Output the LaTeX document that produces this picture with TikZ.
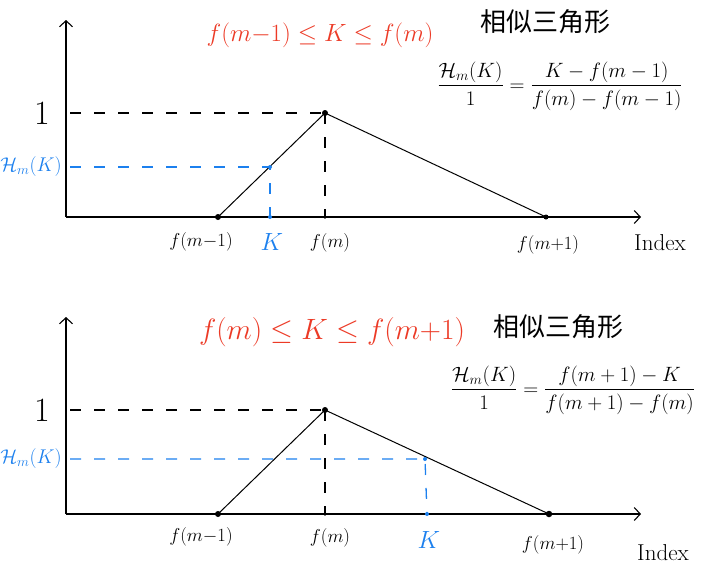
\documentclass[tikz,border=0pt]{standalone}
\usepackage{amsmath}
\usepackage{graphicx}
\usepackage{fontspec}
\newfontfamily\cjk{Noto Sans CJK SC}
\usetikzlibrary{arrows.meta}
\definecolor{hred}{RGB}{236,58,38}
\definecolor{hblue}{RGB}{28,128,238}
\newcommand{\zz}[2]{\scalebox{#1}{#2}}
\tikzset{
  axis/.style={line width=1.1pt, -{Straight Barb[length=6pt,width=13pt]}},
  tri/.style={line width=1pt},
  dot/.style={circle, fill=black, inner sep=0pt, minimum size=6pt},
  sdot/.style={circle, fill=black, inner sep=0pt, minimum size=3.5pt},
  bdot/.style={circle, fill=hblue, inner sep=0pt, minimum size=4pt},
  kdash/.style={line width=1.6pt, dash pattern=on 11pt off 13pt},
  bdash/.style={line width=1.3pt, hblue, dash pattern=on 11pt off 13pt},
  lab/.style={font=\fontsize{17.28}{19}\selectfont, inner sep=1pt},
  blab/.style={lab, text=hblue},
  klab/.style={font=\fontsize{24.88}{26}\selectfont, text=hblue, inner sep=1pt},
  idx/.style={font=\fontsize{23}{25}\selectfont, inner sep=1pt},
  one/.style={font=\fontsize{34}{36}\selectfont, inner sep=1pt},
  ttl/.style={font=\fontsize{24.88}{28}\selectfont, text=hred, inner sep=1pt},
  cjkl/.style={font=\cjk\fontsize{26}{28}\selectfont, inner sep=1pt},
  frac/.style={font=\fontsize{17.28}{19}\selectfont, inner sep=1pt},
}
\begin{document}
\begin{tikzpicture}[x=1pt,y=-1pt]
\useasboundingbox (0,0) rectangle (707,576);

% ---------- top panel ----------
\coordinate (O1) at (66,217);
\coordinate (Y1) at (66,20);
\coordinate (X1) at (641,217);
\draw[axis] (O1) -- (Y1);
\draw[axis] (O1) -- (X1);
\node[dot] (a1) at (218,217) {};
\node[dot] (p1) at (325,113) {};
\node[dot, minimum size=5pt] (c1) at (546,217) {};
\node[sdot] (pb1) at (325,217) {};
\draw[tri] (a1.center) -- (p1.center) -- (c1.center);
\coordinate (one1) at (70,113);
\draw[kdash] (one1) -- (p1.center);
\draw[kdash] (p1.center) -- (pb1.center);
\node[bdot] (k1) at (270,167) {};
\node[bdot] (kb1) at (270,217) {};
\coordinate (h1) at (70,167);
\draw[bdash] (h1) -- (k1.center) -- (kb1.center);
\node[one] (l1a) at (42,113) {1};
\node[blab] (lh1) at (31,167) {\zz{1.15}{$\mathcal{H}_m(K)$}};
\node[lab] (lfa1) at (201,242) {\zz{1.08}{$f(m{-}1)$}};
\node[klab] (lk1) at (272,242) {$K$};
\node[lab] (lfm1) at (330,243) {\zz{1.08}{$f(m)$}};
\node[lab] (lfc1) at (548,245) {\zz{1.08}{$f(m{+}1)$}};
\node[idx] (lix1) at (660,243) {Index};
\node[ttl] (t1) at (320,35) {$f(m{-}1)\leq K\leq f(m)$};
\node[cjkl] (cj1) at (545,22) {相似三角形};
\node[frac] (fr1) at (560,86) {\zz{1.2}{$\displaystyle\frac{\mathcal{H}_m(K)}{1}=\frac{K-f(m-1)}{f(m)-f(m-1)}$}};

% ---------- bottom panel ----------
\coordinate (O2) at (66,514);
\coordinate (Y2) at (66,317);
\coordinate (X2) at (641,514);
\draw[axis] (O2) -- (Y2);
\draw[axis] (O2) -- (X2);
\node[dot] (a2) at (218,514) {};
\node[dot] (p2) at (325,410) {};
\node[dot, minimum size=6.5pt] (c2) at (549,514) {};
\node[sdot] (pb2) at (325,514) {};
\draw[tri] (a2.center) -- (p2.center) -- (c2.center);
\coordinate (one2) at (70,410);
\draw[kdash] (one2) -- (p2.center);
\draw[kdash] (p2.center) -- (pb2.center);
\node[bdot] (k2) at (425,459) {};
\node[bdot] (kb2) at (427,514) {};
\coordinate (h2) at (70,459);
\draw[bdash] (h2) -- (k2.center) -- (kb2.center);
\node[one] (l1b) at (42,410) {1};
\node[blab] (lh2) at (31,459) {\zz{1.15}{$\mathcal{H}_m(K)$}};
\node[lab] (lfa2) at (201,537) {\zz{1.08}{$f(m{-}1)$}};
\node[lab] (lfm2) at (330,538) {\zz{1.08}{$f(m)$}};
\node[klab] (lk2) at (429,540) {$K$};
\node[lab] (lfc2) at (553,545) {\zz{1.08}{$f(m{+}1)$}};
\node[idx] (lix2) at (663,553) {Index};
\node[ttl] (t2) at (332,332) {\zz{1.18}{$f(m)\leq K\leq f(m{+}1)$}};
\node[cjkl] (cj2) at (558,327) {相似三角形};
\node[frac] (fr2) at (573,390) {\zz{1.2}{$\displaystyle\frac{\mathcal{H}_m(K)}{1}=\frac{f(m+1)-K}{f(m+1)-f(m)}$}};
\end{tikzpicture}
\end{document}
